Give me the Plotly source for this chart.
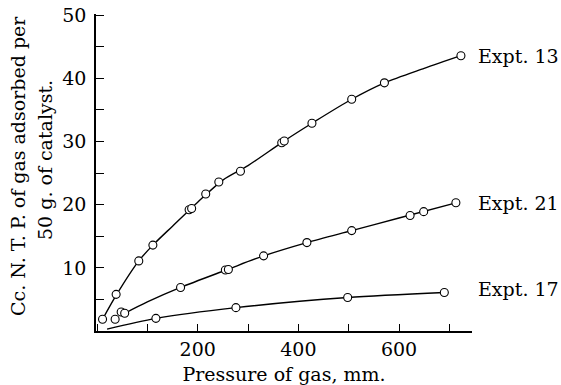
import plotly.graph_objects as go

# Observed points
x13 = [11, 38, 83, 111, 183, 188, 216, 242, 285, 367, 372, 427, 506, 571, 723]
y13 = [1.85, 5.8, 11.1, 13.6, 19.2, 19.4, 21.7, 23.6, 25.3, 29.8, 30.1, 32.9, 36.7, 39.3, 43.6]
x21 = [36, 48, 55, 166, 255, 261, 331, 417, 506, 622, 649, 713]
y21 = [1.85, 3.0, 2.8, 6.9, 9.65, 9.75, 11.9, 14.0, 15.9, 18.3, 18.9, 20.3]
x17 = [117, 276, 498, 690]
y17 = [2.0, 3.7, 5.3, 6.1]

# Smooth drawn curves
c13x = [11, 40, 83, 111, 150, 200, 250, 300, 370, 427, 506, 571, 650, 723]
c13y = [1.85, 5.9, 11.1, 13.6, 16.6, 20.4, 23.9, 26.2, 30.0, 32.9, 36.7, 39.3, 41.6, 43.6]
c21x = [55, 100, 166, 258, 331, 417, 506, 600, 713]
c21y = [2.8, 4.6, 6.9, 9.7, 11.9, 14.0, 15.9, 17.9, 20.3]
c17x = [20, 117, 276, 498, 690]
c17y = [0.3, 2.0, 3.7, 5.3, 6.1]

labels = ["Expt. 13", "Expt. 21", "Expt. 17"]
label_y = [43.6, 20.3, 6.7]

x_tickvals = [200, 400, 600]
y_tickvals = [10, 20, 30, 40, 50]

FONT = "DejaVu Serif"
FS = 19

fig = go.Figure()
for cx, cy in [(c13x, c13y), (c21x, c21y), (c17x, c17y)]:
    fig.add_trace(go.Scatter(x=cx, y=cy, mode="lines", line=dict(color="black", width=1.4, shape="spline", smoothing=0.8),
                             hoverinfo="skip", showlegend=False))
for px, py in [(x13, y13), (x21, y21), (x17, y17)]:
    fig.add_trace(go.Scatter(x=px, y=py, mode="markers",
                             marker=dict(symbol="circle", size=8, color="white", line=dict(color="black", width=1.1)),
                             showlegend=False))

L, R, T, B = 96, 89, 14, 54
W, H = 561, 385
pw = W - L - R
ph = H - T - B

for t, yv in zip(labels, label_y):
    fig.add_annotation(x=(476 - L) / pw, xref="paper", y=yv, yref="y", text=t, showarrow=False,
                       xanchor="left", yanchor="middle", font=dict(family=FONT, size=FS, color="black"))

fig.add_annotation(x=(18 - L) / pw, xref="paper", y=(H - B - 166) / ph, yref="paper",
                   text="Cc. N. T. P. of gas adsorbed per", textangle=-90, showarrow=False,
                   xanchor="center", yanchor="middle", font=dict(family=FONT, size=FS, color="black"))
fig.add_annotation(x=(45 - L) / pw, xref="paper", y=(H - B - 160) / ph, yref="paper",
                   text="50 g. of catalyst.", textangle=-90, showarrow=False,
                   xanchor="center", yanchor="middle", font=dict(family=FONT, size=FS, color="black"))

fig.update_layout(
    width=W, height=H, margin=dict(l=L, r=R, t=T, b=B, autoexpand=False),
    paper_bgcolor="white", plot_bgcolor="white",
    font=dict(family=FONT, size=FS, color="black"),
    xaxis=dict(range=[-2, 745], showgrid=False, zeroline=False, showline=True, linecolor="black", linewidth=1.5,
               automargin=False,
               ticks="inside", ticklen=7, tickcolor="black", tickwidth=1, tickvals=x_tickvals,
               minor=dict(ticks="inside", ticklen=7, tickcolor="black", dtick=100, tick0=0),
               title=dict(text="Pressure of gas, mm.", standoff=13, font=dict(family=FONT, size=FS))),
    yaxis=dict(range=[0, 50.2], showgrid=False, zeroline=False, showline=True, linecolor="black", linewidth=1.5,
               automargin=False, ticklabelstandoff=4,
               ticks="inside", ticklen=8, tickcolor="black", tickwidth=1, tickvals=y_tickvals,
               minor=dict(ticks="inside", ticklen=8, tickcolor="black", dtick=5, tick0=0)),
)

fig.write_html("out.html", config={"displayModeBar": False},
               post_script="document.body.style.margin='0';document.body.style.overflow='hidden';")
